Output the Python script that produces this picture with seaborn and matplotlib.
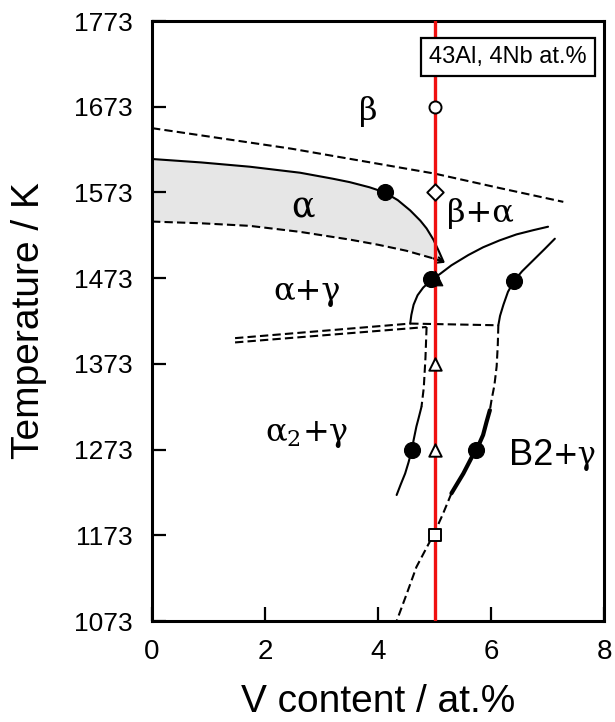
import numpy as np
import pandas as pd
import matplotlib
matplotlib.use("Agg")
import matplotlib.pyplot as plt
import seaborn as sns

# ---- data (V content at.%, temperature K) ----
beta_dash_x = [0.0, 2.47, 5.0, 6.16, 7.28]
beta_dash_T = [1648, 1624, 1595, 1578, 1562]

alpha_upper_x = [0.0, 0.87, 1.73, 2.62, 3.2, 3.5, 3.85, 4.12, 4.35, 4.57, 4.75, 4.86, 4.98, 5.08, 5.16]
alpha_upper_T = [1612, 1608, 1603, 1596, 1589, 1585, 1579, 1573, 1564, 1552, 1540, 1531, 1518, 1504, 1492]

alpha_lower_x = [0.0, 0.87, 1.73, 2.62, 3.5, 4.0, 4.5, 4.98, 5.16]
alpha_lower_T = [1539, 1537, 1534, 1527, 1518, 1512, 1505, 1496, 1492]

curveA_x = [4.57, 4.59, 4.63, 4.70, 4.80, 4.95, 5.10, 5.30, 5.60, 5.86, 6.15, 6.45, 6.75, 7.01]
curveA_T = [1420, 1430, 1442, 1453, 1462, 1471, 1478, 1488, 1500, 1509, 1517, 1524, 1529, 1533]

curveB_x = [7.13, 6.95, 6.75, 6.55, 6.41, 6.30, 6.22, 6.16, 6.13]
curveB_T = [1519, 1507, 1494, 1481, 1470, 1457, 1442, 1429, 1418]

left_up_x = [1.47, 4.57]
left_up_T = [1403, 1420]
left_low_x = [1.47, 4.86]
left_low_T = [1398, 1416]
horiz_x = [4.57, 6.13]
horiz_T = [1420, 1418]

curveC_dash_x = [4.86, 4.84, 4.81, 4.77]
curveC_dash_T = [1416, 1380, 1345, 1323]
curveC_solid_x = [4.77, 4.72, 4.68, 4.63, 4.60, 4.54, 4.48, 4.40, 4.33]
curveC_solid_T = [1323, 1310, 1300, 1284, 1273, 1258, 1245, 1232, 1220]

curveD_dash_top_x = [6.13, 6.12, 6.10, 6.06, 6.01, 5.98]
curveD_dash_top_T = [1418, 1395, 1370, 1348, 1331, 1319]
curveD_thick_x = [5.98, 5.92, 5.86, 5.80, 5.73, 5.62, 5.51, 5.40, 5.30]
curveD_thick_T = [1319, 1305, 1290, 1281, 1273, 1259, 1245, 1233, 1222]
curveD_dash_bot_x = [5.30, 5.15, 5.0, 4.84, 4.68, 4.51, 4.33]
curveD_dash_bot_T = [1222, 1198, 1176, 1156, 1136, 1105, 1073]

filled_circ_x = [4.12, 4.93, 6.41, 4.60, 5.73]
filled_circ_T = [1573, 1472, 1470, 1273, 1273]

alloy_x = 5.0
open_circle_T = [1673]
open_diamond_T = [1573]
filled_tri_T = [1473]
open_tri_T = [1373, 1273]
open_square_T = [1173]

xticks = [0, 2, 4, 6, 8]
yticks = [1073, 1173, 1273, 1373, 1473, 1573, 1673, 1773]

# ---- figure ----
sns.set_theme(style="ticks")
plt.rcParams["font.family"] = ["Liberation Sans", "DejaVu Sans"]
plt.rcParams.update({"text.color": "black", "axes.labelcolor": "black",
                     "xtick.color": "black", "ytick.color": "black"})

fig = plt.figure(figsize=(6.15, 7.22), dpi=100)
ax = fig.add_axes([152/615, 1-621/722, (604-152)/615, 600/722])

# gray alpha field
poly_x = alpha_upper_x + alpha_lower_x[::-1]
poly_T = alpha_upper_T + alpha_lower_T[::-1]
ax.fill(poly_x, poly_T, color="#e6e6e6", zorder=0, lw=0)

def line(x, y, dashed=False, lw=1.5):
    df = pd.DataFrame({"x": x, "y": y})
    kw = dict(color="black", lw=lw, sort=False, estimator=None, ax=ax, zorder=3)
    if dashed:
        kw["linestyle"] = (0, (4, 2))
    sns.lineplot(data=df, x="x", y="y", **kw)

line(beta_dash_x, beta_dash_T, dashed=True)
line(alpha_upper_x, alpha_upper_T)
line(alpha_lower_x, alpha_lower_T, dashed=True)
line(curveA_x, curveA_T)
line(curveB_x, curveB_T)
line(left_up_x, left_up_T, dashed=True)
line(left_low_x, left_low_T, dashed=True)
line(horiz_x, horiz_T, dashed=True)
line(curveC_dash_x, curveC_dash_T, dashed=True)
line(curveC_solid_x, curveC_solid_T)
line(curveD_dash_top_x, curveD_dash_top_T, dashed=True)
line(curveD_thick_x, curveD_thick_T, lw=3.0)
line(curveD_dash_bot_x, curveD_dash_bot_T, dashed=True)

# small arrow head at the end of the alpha dashed boundary
ax.annotate("", xy=(alpha_lower_x[-1] + 0.03, alpha_lower_T[-1] - 1),
            xytext=(alpha_lower_x[-2], alpha_lower_T[-2]),
            arrowprops=dict(arrowstyle="->", lw=1.5, color="black",
                            mutation_scale=10, shrinkA=0, shrinkB=0), zorder=3)

# alloy composition line
ax.axvline(alloy_x, color="#f01010", lw=2.4, zorder=4)

# markers
sns.scatterplot(x=filled_circ_x, y=filled_circ_T, marker="o", s=130,
                color="black", edgecolor="black", ax=ax, zorder=6)
sns.scatterplot(x=[alloy_x], y=open_circle_T, marker="o", s=75,
                facecolor="white", edgecolor="black", linewidth=1.4, ax=ax, zorder=7)
sns.scatterplot(x=[alloy_x], y=open_diamond_T, marker="D", s=70,
                facecolor="white", edgecolor="black", linewidth=1.4, ax=ax, zorder=7)
sns.scatterplot(x=[alloy_x], y=filled_tri_T, marker="^", s=110,
                color="black", edgecolor="black", ax=ax, zorder=7)
sns.scatterplot(x=[alloy_x] * len(open_tri_T), y=open_tri_T, marker="^", s=80,
                facecolor="white", edgecolor="black", linewidth=1.4, ax=ax, zorder=7)
sns.scatterplot(x=[alloy_x], y=open_square_T, marker="s", s=75,
                facecolor="white", edgecolor="black", linewidth=1.4, ax=ax, zorder=7)

# phase labels
serif = ["DejaVu Serif"]
ax.text(3.82, 1667, "β", fontsize=23, family=serif, ha="center", va="center")
ax.text(2.67, 1556, "α", fontsize=25, family=serif, ha="center", va="center")
ax.text(5.81, 1549, "β+α", fontsize=23, family=serif, ha="center", va="center")
ax.text(2.74, 1458, "α+γ", fontsize=23, family=serif, ha="center", va="center")
ax.text(2.74, 1291, "α$_{\\mathregular{2}}$+γ", fontsize=23, family=serif,
        ha="center", va="center")
ax.text(7.10, 1266, "B2", fontsize=26, ha="right", va="center")
ax.text(7.10, 1266, "+γ", fontsize=22, family=serif, ha="left", va="center")

ax.text(6.30, 1731, "43Al, 4Nb at.%", fontsize=17, ha="center", va="center",
        bbox=dict(boxstyle="square,pad=0.33", facecolor="white", edgecolor="black", lw=1.6),
        zorder=8)

ax.set_xlim(0, 8)
ax.set_ylim(1073, 1773)
ax.set_xticks(xticks)
ax.set_yticks(yticks)
ax.tick_params(axis="both", direction="in", length=10, width=1.6,
               top=False, right=False, colors="black")
ax.tick_params(axis="x", labelsize=20, pad=13)
ax.tick_params(axis="y", labelsize=19, pad=14)
for s in ax.spines.values():
    s.set_linewidth(2.2)
    s.set_color("black")
    s.set_visible(True)

ax.set_xlabel("V content / at.%", fontsize=28, labelpad=14)
ax.set_ylabel("Temperature / K", fontsize=28, labelpad=19)

fig.savefig("out.png", dpi=100)
